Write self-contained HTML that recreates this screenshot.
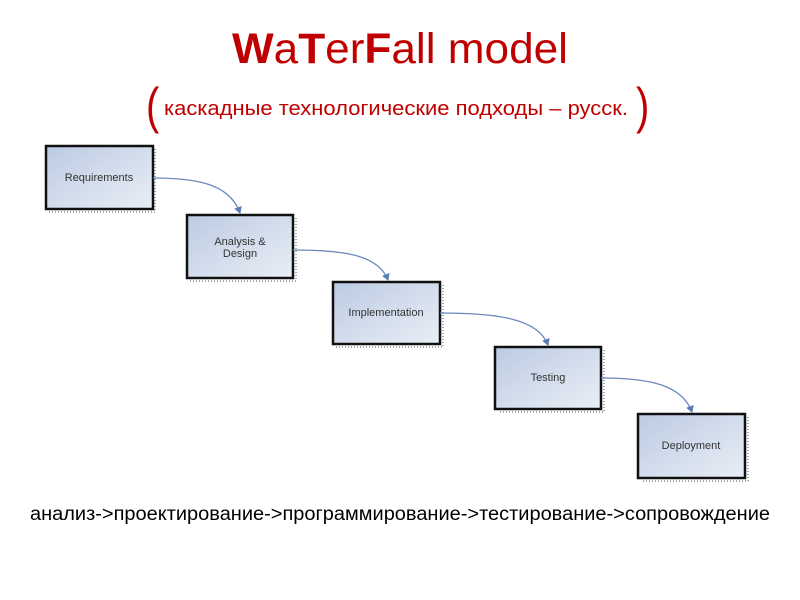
<!DOCTYPE html>
<html><head><meta charset="utf-8"><style>
html,body{margin:0;padding:0;background:#fff;width:800px;height:600px;overflow:hidden}
</style></head><body>
<svg width="800" height="600" xmlns="http://www.w3.org/2000/svg" font-family="Liberation Sans, DejaVu Sans, sans-serif">
<defs>
<linearGradient id="g" x1="0" y1="0" x2="1" y2="1">
<stop offset="0" stop-color="#bccbe2"/><stop offset="1" stop-color="#e9eef6"/>
</linearGradient>
<marker id="a" markerWidth="8" markerHeight="8" refX="6" refY="4" orient="auto" markerUnits="userSpaceOnUse">
<path d="M0,0 L7,4 L0,8 z" fill="#5b7db5"/></marker>
</defs>
<text x="232" y="63" font-size="43" fill="#c00000" textLength="336" lengthAdjust="spacingAndGlyphs"><tspan font-weight="bold">W</tspan>a<tspan font-weight="bold">T</tspan>er<tspan font-weight="bold">F</tspan>all model</text>
<text x="146" y="123" font-size="50" fill="#c00000" transform="translate(146,0) scale(0.8,1) translate(-146,0)">(</text>
<text x="164" y="115" font-size="20" fill="#c00000" textLength="464" lengthAdjust="spacingAndGlyphs">каскадные технологические подходы – русск.</text>
<text x="636" y="123" font-size="50" fill="#c00000" transform="translate(636,0) scale(0.8,1) translate(-636,0)">)</text>
<g stroke="#a0a8b8" stroke-width="2" stroke-dasharray="1,2" fill="none">
<path d="M155,149 V212 H49"/><path d="M296,218 V281 H190"/><path d="M443,285 V347 H336"/><path d="M604,350 V412 H498"/><path d="M748,417 V481 H641"/>
</g>
<g stroke="#111" stroke-width="2.5" fill="url(#g)">
<rect x="46" y="146" width="107" height="63"/>
<rect x="187" y="215" width="106" height="63"/>
<rect x="333" y="282" width="107" height="62"/>
<rect x="495" y="347" width="106" height="62"/>
<rect x="638" y="414" width="107" height="64"/>
</g>
<g font-size="11" fill="#333" text-anchor="middle">
<text x="99" y="181">Requirements</text>
<text x="240" y="245">Analysis &amp;</text><text x="240" y="257">Design</text>
<text x="386" y="316">Implementation</text>
<text x="548" y="381">Testing</text>
<text x="691" y="449">Deployment</text>
</g>
<g stroke="#6a88bd" stroke-width="1.3" fill="none" marker-end="url(#a)">
<path d="M153,178 C200,178 230,185 240,213"/>
<path d="M293,250 C345,250 378,255 388,280"/>
<path d="M440,313 C495,313 538,318 548,345"/>
<path d="M601,378 C650,378 682,385 692,412"/>
</g>
<text x="30" y="520" font-size="19" fill="#000" textLength="740" lengthAdjust="spacingAndGlyphs">анализ-&gt;проектирование-&gt;программирование-&gt;тестирование-&gt;сопровождение</text>
</svg>
</body></html>
